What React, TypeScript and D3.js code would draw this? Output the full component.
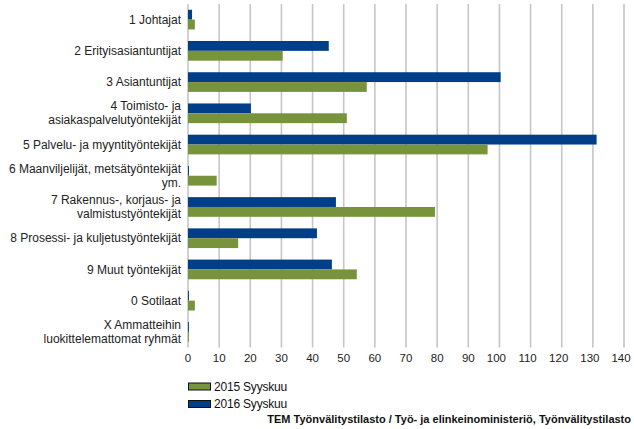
import React from "react";
import * as d3 from "d3";

const width = 634,
  height = 429;

// ammattiryhmät (rivit voivat olla kaksirivisiä)
const categories = [
  "1 Johtajat",
  "2 Erityisasiantuntijat",
  "3 Asiantuntijat",
  "4 Toimisto- ja\nasiakaspalvelutyöntekijät",
  "5 Palvelu- ja myyntityöntekijät",
  "6 Maanviljelijät, metsätyöntekijät\nym.",
  "7 Rakennus-, korjaus- ja\nvalmistustyöntekijät",
  "8 Prosessi- ja kuljetustyöntekijät",
  "9 Muut työntekijät",
  "0 Sotilaat",
  "X Ammatteihin\nluokittelemattomat ryhmät",
];

const values2015 = [2.2, 30.4, 57.4, 51, 96.2, 9.2, 79.3, 16.1, 54.2, 2.2, 0.3];
const values2016 = [1.3, 45.2, 100.4, 20.2, 131.2, 0.3, 47.5, 41.4, 46.2, 0.3, 0.3];

const seriesNames = ["2016 Syyskuu", "2015 Syyskuu"];
const legendNames = ["2015 Syyskuu", "2016 Syyskuu"];
const colors: Record<string, string> = {
  "2015 Syyskuu": "#77933c",
  "2016 Syyskuu": "#003f87",
};

const ticks = [0, 10, 20, 30, 40, 50, 60, 70, 80, 90, 100, 110, 120, 130, 140];
const source = "TEM Työnvälitystilasto / Työ- ja elinkeinoministeriö, Työnvälitystilasto";

const font = "'Liberation Sans', Arial, sans-serif";

const App = () => {
  const left = 188,
    right = 624,
    top = 4,
    bottom = 347.5;

  const x = d3.scaleLinear().domain([0, 140]).range([left, right]);
  const y = d3
    .scaleBand()
    .domain(categories)
    .range([top, bottom])
    .paddingInner(0.37)
    .paddingOuter(0.185);
  const sub = d3.scaleBand().domain(seriesNames).range([0, y.bandwidth()]);

  const rows = categories.map((c, i) => ({
    name: c,
    "2015 Syyskuu": values2015[i],
    "2016 Syyskuu": values2016[i],
  }));

  return (
    <svg
      width={width}
      height={height}
      style={{ position: "absolute", left: 0, top: 0 }}
      fontFamily={font}
    >
      <rect width={width} height={height} fill="#fff" />
      {ticks.map((t) => (
        <line
          key={t}
          x1={x(t)}
          x2={x(t)}
          y1={top}
          y2={bottom}
          stroke="#c6c6c6"
          strokeWidth={1.6}
        />
      ))}
      {rows.map((r) =>
        seriesNames.map((s) => (
          <rect
            key={r.name + s}
            x={x(0)}
            y={(y(r.name) ?? 0) + (sub(s) ?? 0)}
            width={x(r[s as keyof typeof r] as number) - x(0)}
            height={sub.bandwidth()}
            fill={colors[s]}
          />
        ))
      )}
      <g fontSize={12} fill="#222" textAnchor="end">
        {categories.map((c) => {
          const lines = c.split("\n");
          const cy = (y(c) ?? 0) + y.bandwidth() / 2;
          return (
            <text key={c} x={181} y={cy - ((lines.length - 1) * 14) / 2}>
              {lines.map((l, i) => (
                <tspan key={i} x={181} dy={i === 0 ? "0.35em" : 14}>
                  {l}
                </tspan>
              ))}
            </text>
          );
        })}
      </g>
      <g fontSize={11.5} fill="#222" textAnchor="middle">
        {ticks.map((t) => (
          <text key={t} x={x(t) - (t >= 100 ? 3 : 0)} y={362}>
            {t}
          </text>
        ))}
      </g>
      <g>
        {legendNames.map((s, i) => (
          <g key={s} transform={`translate(188,${382.5 + i * 17.5})`}>
            <rect x={0.5} y={0.5} width={22} height={7} fill={colors[s]} stroke="#111" strokeWidth={1} />
            <text x={26} y={4} dy="0.35em" fontSize={12} fill="#111" letterSpacing={-0.2}>
              {s}
            </text>
          </g>
        ))}
      </g>
      <text x={631} y={423} textAnchor="end" fontSize={11} fontWeight="bold" fill="#111">
        {source}
      </text>
    </svg>
  );
};

export default App;
